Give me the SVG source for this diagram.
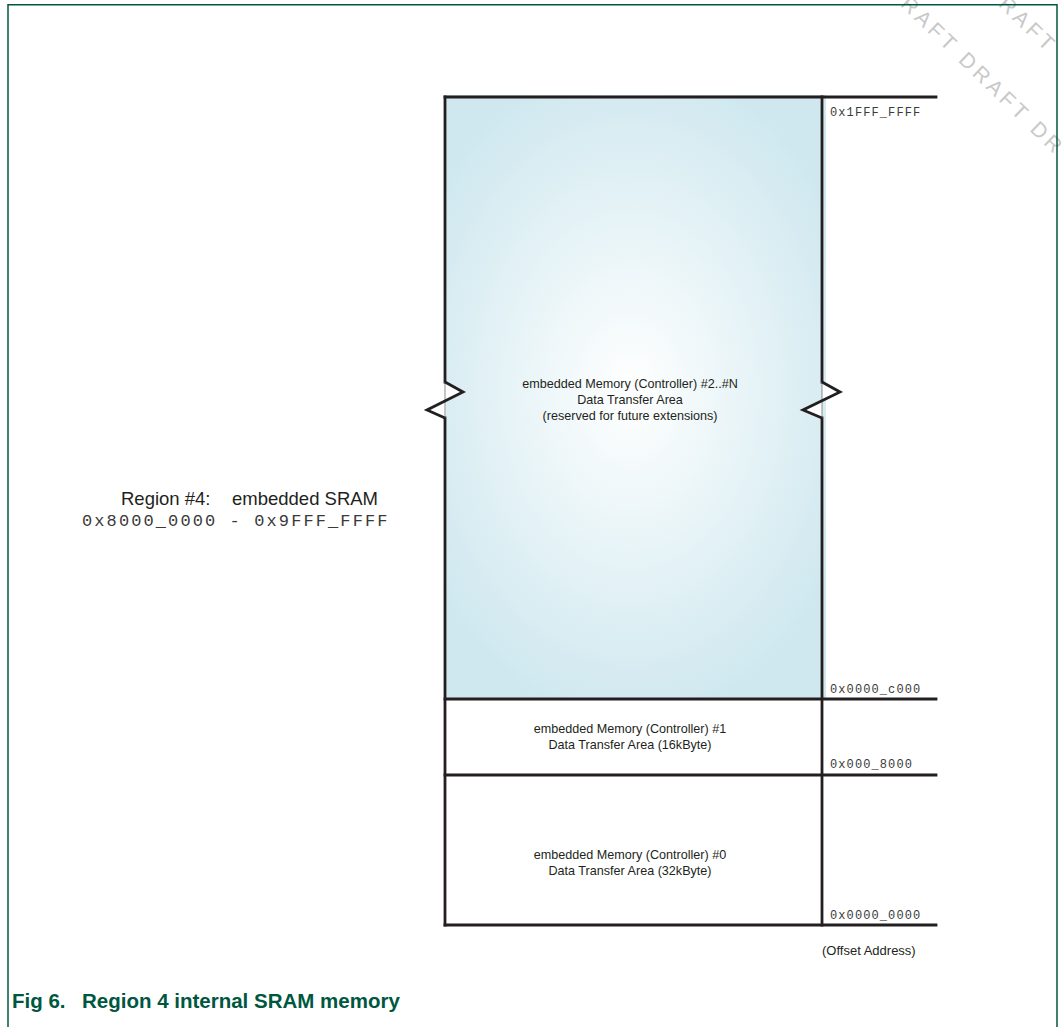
<svg xmlns="http://www.w3.org/2000/svg" width="1063" height="1027" viewBox="0 0 1063 1027">
  <style>
    .frame { fill: none; stroke: #00573f; stroke-width: 1.5; }
    .edge { stroke: #231f20; stroke-width: 2.8; fill: none; stroke-linecap: square; }
    .thin { stroke: #8a8a8a; stroke-width: 1; }
    .zig { fill: #ffffff; stroke: none; }
    .zigline { fill: none; stroke: #231f20; stroke-width: 2.8; stroke-linejoin: miter; }
    .lbl { font-family: "Liberation Sans", Arial, sans-serif; font-size: 12.6px; fill: #231f20; text-anchor: middle; }
    .addr { font-family: "Liberation Mono", "Courier New", monospace; font-size: 12px; letter-spacing: 1.1px; fill: #3a3a3a; }
    .note { font-family: "Liberation Sans", Arial, sans-serif; font-size: 13px; fill: #231f20; }
    .region { font-family: "Liberation Sans", Arial, sans-serif; font-size: 18.5px; fill: #231f20; }
    .range { font-family: "Liberation Mono", "Courier New", monospace; font-size: 17px; letter-spacing: 2.1px; fill: #3a3a3a; }
    .caption { font-family: "Liberation Sans", Arial, sans-serif; font-size: 20.5px; font-weight: bold; fill: #00573f; }
    .wm { font-family: "Liberation Sans", Arial, sans-serif; font-size: 21px; fill: #c8c8c8; letter-spacing: 4px; }
  </style>
  <defs>
    <radialGradient id="sramFill" cx="630" cy="390" r="330" gradientUnits="userSpaceOnUse" gradientTransform="translate(630 390) scale(0.72 1) translate(-630 -390)">
      <stop offset="0" stop-color="#ffffff"/>
      <stop offset="1" stop-color="#cfe8ef"/>
    </radialGradient>
  </defs>

  <rect width="1063" height="1027" fill="#ffffff"/>

  <!-- watermark -->
  <g id="watermark">
    <text class="wm" transform="translate(886 -8) rotate(44)">DRAFT DRAFT DR</text>
    <text class="wm" transform="translate(984 -8) rotate(44)">DRAFT</text>
  </g>

  <!-- page frame -->
  <path class="frame" d="M8 1030 V4.8 H1057 V1030"/>

  <!-- address map blocks -->
  <g id="block-ext">
    <rect x="446" y="95" width="380" height="604" fill="url(#sramFill)"/>
    <text class="lbl" x="630" y="388">embedded Memory (Controller) #2..#N</text>
    <text class="lbl" x="630" y="404">Data Transfer Area</text>
    <text class="lbl" x="630" y="420">(reserved for future extensions)</text>
  </g>
  <g id="block-1">
    <text class="lbl" x="630" y="733">embedded Memory (Controller) #1</text>
    <text class="lbl" x="630" y="749">Data Transfer Area (16kByte)</text>
  </g>
  <g id="block-0">
    <text class="lbl" x="630" y="859">embedded Memory (Controller) #0</text>
    <text class="lbl" x="630" y="875">Data Transfer Area (32kByte)</text>
  </g>

  <!-- outlines and boundaries -->
  <g id="connectors">
    <line class="edge" x1="445" y1="97" x2="936" y2="97"/>
    <line class="edge" x1="445" y1="699" x2="936" y2="699"/>
    <line class="edge" x1="445" y1="775" x2="936" y2="775"/>
    <line class="edge" x1="445" y1="925" x2="936" y2="925"/>
    <line class="edge" x1="445" y1="97" x2="445" y2="382"/>
    <line class="edge" x1="445" y1="418" x2="445" y2="925"/>
    <line class="edge" x1="822" y1="97" x2="822" y2="382"/>
    <line class="edge" x1="822" y1="418" x2="822" y2="925"/>
    <!-- break marks -->
    <path class="zig" d="M445 382 L463 392 L427 410 L445 418 Z"/>
    <line class="thin" x1="445" y1="382" x2="445" y2="418"/>
    <polyline class="zigline" points="445,382 463,392 427,410 445,418"/>
    <path class="zig" d="M822 382 L840 392 L803 410 L822 418 Z"/>
    <line class="thin" x1="822" y1="382" x2="822" y2="418"/>
    <polyline class="zigline" points="822,382 840,392 803,410 822,418"/>
  </g>

  <!-- offset addresses -->
  <g id="addresses">
    <text class="addr" x="830" y="116">0x1FFF_FFFF</text>
    <text class="addr" x="830" y="693">0x0000_c000</text>
    <text class="addr" x="830" y="768">0x000_8000</text>
    <text class="addr" x="830" y="919">0x0000_0000</text>
    <text class="note" x="822" y="955">(Offset Address)</text>
  </g>

  <!-- region label -->
  <g id="region-label">
    <text class="region" y="505"><tspan x="121">Region #4:</tspan><tspan x="232">embedded SRAM</tspan></text>
    <text class="range" x="82" y="526">0x8000_0000 - 0x9FFF_FFFF</text>
  </g>

  <text class="caption" x="12" y="1008">Fig 6.<tspan x="82">Region 4 internal SRAM memory</tspan></text>
</svg>
